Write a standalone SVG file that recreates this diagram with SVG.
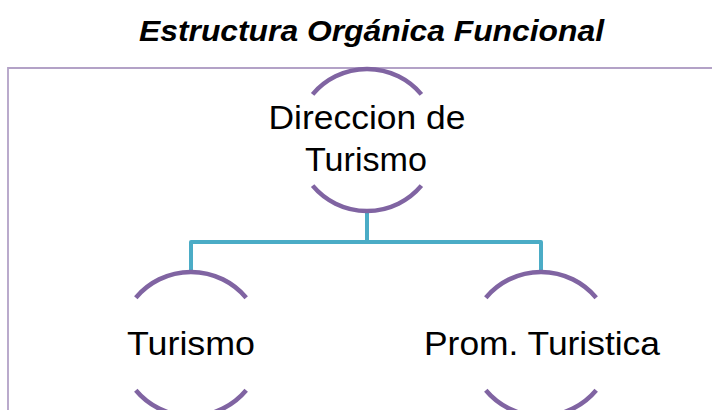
<svg xmlns="http://www.w3.org/2000/svg" width="712" height="410" viewBox="0 0 712 410">
<style>
.title{font-family:"Liberation Sans",Arial,sans-serif;font-weight:bold;font-style:italic;font-size:29.5px;fill:#000}
.lbl{font-family:"Liberation Sans",Arial,sans-serif;font-size:33.5px;fill:#000;text-anchor:middle}
.arc{fill:none;stroke:#8064A2;stroke-width:4.5}
.conn{fill:none;stroke:#4BACC6;stroke-width:4;stroke-linejoin:round}
.frame{fill:none;stroke:#B3A2C7;stroke-width:1.8}
</style>
<rect width="712" height="410" fill="#fff"/>
<text class="title" x="139" y="41" textLength="465" lengthAdjust="spacingAndGlyphs">Estructura Orgánica Funcional</text>
<path class="frame" d="M8 420 V68 H720"/>
<g id="connectors">
<path class="conn" d="M367 211 V242"/>
<path class="conn" d="M191 272 V242 H541 V272"/>
</g>
<g id="node-direccion">
<path class="arc" d="M312.6 94.4 A71 71 0 0 1 421.4 94.4"/>
<path class="arc" d="M312.6 185.6 A71 71 0 0 0 421.4 185.6"/>
<text class="lbl" x="367" y="129" textLength="197" lengthAdjust="spacingAndGlyphs">Direccion de</text>
<text class="lbl" x="366" y="171" textLength="122" lengthAdjust="spacingAndGlyphs">Turismo</text>
</g>
<g id="node-turismo">
<path class="arc" d="M135.8 297.7 A72 72 0 0 1 246.2 297.7"/>
<path class="arc" d="M135.8 390.3 A72 72 0 0 0 246.2 390.3"/>
<text class="lbl" x="191" y="355" textLength="128" lengthAdjust="spacingAndGlyphs">Turismo</text>
</g>
<g id="node-promocion">
<path class="arc" d="M485.8 297.7 A72 72 0 0 1 596.2 297.7"/>
<path class="arc" d="M485.8 390.3 A72 72 0 0 0 596.2 390.3"/>
<text class="lbl" x="542" y="355" textLength="236" lengthAdjust="spacingAndGlyphs">Prom. Turistica</text>
</g>
</svg>
